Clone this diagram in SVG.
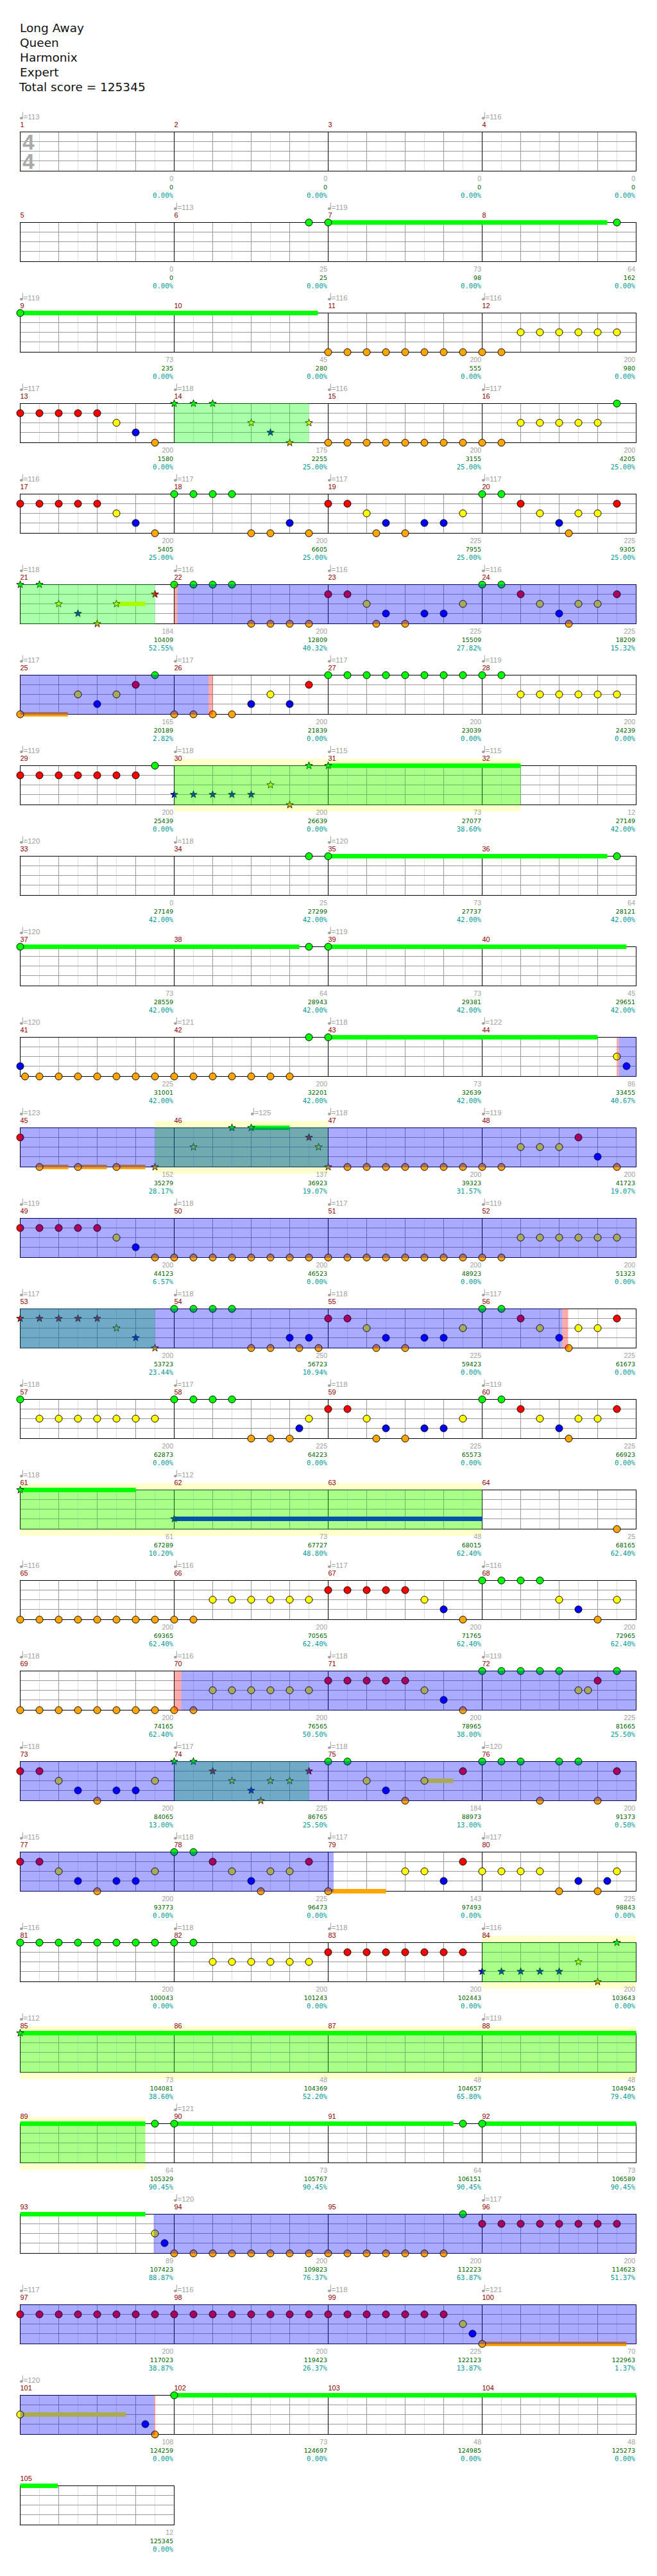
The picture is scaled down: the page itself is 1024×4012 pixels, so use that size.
<svg xmlns="http://www.w3.org/2000/svg" width="1024" height="4012" viewBox="0 0 1024 4012">
<defs>
<style>
.mn{font-family:"Liberation Sans",Arial,sans-serif;font-size:11px;fill:#8b0000}
.tp{font-family:"Liberation Sans",Arial,sans-serif;font-size:11.5px;fill:#a0a0a0}
.s1{font-family:"Liberation Sans",Arial,sans-serif;font-size:10.5px;fill:#a0a0a0;text-anchor:end}
.s2{font-family:"DejaVu Sans",sans-serif;font-size:9.5px;fill:#006400;text-anchor:end}
.s3{font-family:"DejaVu Sans Mono",monospace;font-size:10.6px;fill:#009999;text-anchor:end}
.hd{font-family:"DejaVu Sans",sans-serif;font-size:18.5px;fill:#111}
.ts{font-family:"Liberation Sans",Arial,sans-serif;font-size:33.5px;font-weight:bold;fill:#aaa}
.og{fill:#00ff00;fill-opacity:.333}
.ob{fill:#0000ff;fill-opacity:.333}
.orr{fill:#ff0000;fill-opacity:.333}
.yb{fill:#ffffcc}
.zg{fill:#00ff00}.zr{fill:#ff0000}.zy{fill:#ffff00}.zb{fill:#0000ff}.zo{fill:#ffa500}
</style>
<circle id="G" r="5.5" fill="#00ff00" stroke="#000"/>
<circle id="R" r="5.5" fill="#ff0000" stroke="#000"/>
<circle id="Y" r="5.5" fill="#ffff00" stroke="#000"/>
<circle id="B" r="5.5" fill="#0000ff" stroke="#000"/>
<circle id="O" r="5.5" fill="#ffa500" stroke="#000"/>
<polygon id="sG" points="0,-6 1.41,-1.94 5.71,-1.85 2.28,0.74 3.53,4.85 0,2.4 -3.53,4.85 -2.28,0.74 -5.71,-1.85 -1.41,-1.94" fill="#00ff00" stroke="#000" stroke-width="0.8"/>
<polygon id="sR" points="0,-6 1.41,-1.94 5.71,-1.85 2.28,0.74 3.53,4.85 0,2.4 -3.53,4.85 -2.28,0.74 -5.71,-1.85 -1.41,-1.94" fill="#ff0000" stroke="#000" stroke-width="0.8"/>
<polygon id="sY" points="0,-6 1.41,-1.94 5.71,-1.85 2.28,0.74 3.53,4.85 0,2.4 -3.53,4.85 -2.28,0.74 -5.71,-1.85 -1.41,-1.94" fill="#ffff00" stroke="#000" stroke-width="0.8"/>
<polygon id="sB" points="0,-6 1.41,-1.94 5.71,-1.85 2.28,0.74 3.53,4.85 0,2.4 -3.53,4.85 -2.28,0.74 -5.71,-1.85 -1.41,-1.94" fill="#0000ff" stroke="#000" stroke-width="0.8"/>
<polygon id="sO" points="0,-6 1.41,-1.94 5.71,-1.85 2.28,0.74 3.53,4.85 0,2.4 -3.53,4.85 -2.28,0.74 -5.71,-1.85 -1.41,-1.94" fill="#ffa500" stroke="#000" stroke-width="0.8"/>
<g id="q" fill="#a0a0a0"><ellipse cx="1.8" cy="-21.5" rx="2.4" ry="1.9"/><rect x="3.3" y="-31" width="1" height="9.5"/></g>
<g id="st4" fill="none">
<path stroke="#dddddd" d="M61.5 0v61M121.5 0v61M181.5 0v61M241.5 0v61M301.5 0v61M361.5 0v61M421.5 0v61M481.5 0v61M541.5 0v61M601.5 0v61M661.5 0v61M721.5 0v61M781.5 0v61M841.5 0v61M901.5 0v61M961.5 0v61"/>
<path stroke="#999999" d="M91.5 0v61M151.5 0v61M211.5 0v61M331.5 0v61M391.5 0v61M451.5 0v61M571.5 0v61M631.5 0v61M691.5 0v61M811.5 0v61M871.5 0v61M931.5 0v61M31.5 15H991.5M31.5 30H991.5M31.5 45H991.5"/>
<path stroke="#000" d="M271.5 0v61M511.5 0v61M751.5 0v61"/>
<rect x="31.5" y="0" width="960" height="61" stroke="#000"/>
</g>
<g id="st1" fill="none">
<path stroke="#dddddd" d="M61.5 0v61M121.5 0v61M181.5 0v61M241.5 0v61"/>
<path stroke="#999999" d="M91.5 0v61M151.5 0v61M211.5 0v61M31.5 15H271.5M31.5 30H271.5M31.5 45H271.5"/>
<rect x="31.5" y="0" width="240" height="61" stroke="#000"/>
</g>
<g id="P">
<use href="#R" x="511.5" y="15"/><use href="#R" x="541.5" y="15"/><use href="#Y" x="571.5" y="30"/><use href="#O" x="586.5" y="61"/><use href="#B" x="601.5" y="45"/><use href="#O" x="631.5" y="61"/><use href="#B" x="661.5" y="45"/><use href="#B" x="691.5" y="45"/><use href="#Y" x="721.5" y="30"/><use href="#G" x="751.5" y="0"/><use href="#G" x="781.5" y="0"/><use href="#R" x="811.5" y="15"/><use href="#Y" x="841.5" y="30"/><use href="#B" x="871.5" y="45"/><use href="#O" x="886.5" y="61"/><use href="#Y" x="901.5" y="30"/><use href="#Y" x="931.5" y="30"/><use href="#R" x="961.5" y="15"/>
</g>
</defs>
<rect width="1024" height="4012" fill="#fff"/>
<g id="header">
<text class="hd" x="31" y="49.5">Long Away</text>
<text class="hd" x="31" y="72.5">Queen</text>
<text class="hd" x="31" y="95.5">Harmonix</text>
<text class="hd" x="31" y="118.5">Expert</text>
<text class="hd" x="30" y="141.5">Total score = 125345</text>
</g>

<g id="row-m1-4" transform="translate(0,205.5)">
<use href="#st4"/>
<text class="ts" x="35" y="27.5">4</text><text class="ts" x="35" y="57.5">4</text>
<text class="mn" x="31.5" y="-8">1</text><text class="mn" x="271.5" y="-8">2</text><text class="mn" x="511.5" y="-8">3</text><text class="mn" x="751.5" y="-8">4</text>
<use href="#q" x="31.5"/><text class="tp" x="36.5" y="-20">=113</text><use href="#q" x="751.5"/><text class="tp" x="756.5" y="-20">=116</text>
<text class="s1" x="270" y="76">0</text><text class="s2" x="270" y="89.5">0</text><text class="s3" x="270" y="102.5">0.00%</text>
<text class="s1" x="510" y="76">0</text><text class="s2" x="510" y="89.5">0</text><text class="s3" x="510" y="102.5">0.00%</text>
<text class="s1" x="750" y="76">0</text><text class="s2" x="750" y="89.5">0</text><text class="s3" x="750" y="102.5">0.00%</text>
<text class="s1" x="990" y="76">0</text><text class="s2" x="990" y="89.5">0</text><text class="s3" x="990" y="102.5">0.00%</text>
</g>

<g id="row-m5-8" transform="translate(0,346.5)">
<use href="#st4"/>
<text class="mn" x="31.5" y="-8">5</text><text class="mn" x="271.5" y="-8">6</text><text class="mn" x="511.5" y="-8">7</text><text class="mn" x="751.5" y="-8">8</text>
<use href="#q" x="271.5"/><text class="tp" x="276.5" y="-20">=113</text><use href="#q" x="511.5"/><text class="tp" x="516.5" y="-20">=119</text>
<rect class="zg" x="511.5" y="-3.5" width="435" height="7"/>
<use href="#G" x="481.5" y="0"/><use href="#G" x="511.5" y="0"/><use href="#G" x="961.5" y="0"/>
<text class="s1" x="270" y="76">0</text><text class="s2" x="270" y="89.5">0</text><text class="s3" x="270" y="102.5">0.00%</text>
<text class="s1" x="510" y="76">25</text><text class="s2" x="510" y="89.5">25</text><text class="s3" x="510" y="102.5">0.00%</text>
<text class="s1" x="750" y="76">73</text><text class="s2" x="750" y="89.5">98</text><text class="s3" x="750" y="102.5">0.00%</text>
<text class="s1" x="990" y="76">64</text><text class="s2" x="990" y="89.5">162</text><text class="s3" x="990" y="102.5">0.00%</text>
</g>

<g id="row-m9-12" transform="translate(0,487.5)">
<use href="#st4"/>
<text class="mn" x="31.5" y="-8">9</text><text class="mn" x="271.5" y="-8">10</text><text class="mn" x="511.5" y="-8">11</text><text class="mn" x="751.5" y="-8">12</text>
<use href="#q" x="31.5"/><text class="tp" x="36.5" y="-20">=119</text><use href="#q" x="511.5"/><text class="tp" x="516.5" y="-20">=116</text><use href="#q" x="751.5"/><text class="tp" x="756.5" y="-20">=116</text>
<rect class="zg" x="31.5" y="-3.5" width="464" height="7"/>
<use href="#G" x="31.5" y="0"/>
<use href="#O" x="511.5" y="61"/><use href="#O" x="541.5" y="61"/><use href="#O" x="571.5" y="61"/><use href="#O" x="601.5" y="61"/><use href="#O" x="631.5" y="61"/><use href="#O" x="661.5" y="61"/><use href="#O" x="691.5" y="61"/><use href="#O" x="721.5" y="61"/><use href="#O" x="751.5" y="61"/><use href="#O" x="781.5" y="61"/>
<use href="#Y" x="811.5" y="30"/><use href="#Y" x="841.5" y="30"/><use href="#Y" x="871.5" y="30"/><use href="#Y" x="901.5" y="30"/><use href="#Y" x="931.5" y="30"/><use href="#Y" x="961.5" y="30"/>
<text class="s1" x="270" y="76">73</text><text class="s2" x="270" y="89.5">235</text><text class="s3" x="270" y="102.5">0.00%</text>
<text class="s1" x="510" y="76">45</text><text class="s2" x="510" y="89.5">280</text><text class="s3" x="510" y="102.5">0.00%</text>
<text class="s1" x="750" y="76">200</text><text class="s2" x="750" y="89.5">555</text><text class="s3" x="750" y="102.5">0.00%</text>
<text class="s1" x="990" y="76">200</text><text class="s2" x="990" y="89.5">980</text><text class="s3" x="990" y="102.5">0.00%</text>
</g>

<g id="row-m13-16" transform="translate(0,628.5)">
<use href="#st4"/>
<text class="mn" x="31.5" y="-8">13</text><text class="mn" x="271.5" y="-8">14</text><text class="mn" x="511.5" y="-8">15</text><text class="mn" x="751.5" y="-8">16</text>
<use href="#q" x="31.5"/><text class="tp" x="36.5" y="-20">=117</text><use href="#q" x="271.5"/><text class="tp" x="276.5" y="-20">=118</text><use href="#q" x="511.5"/><text class="tp" x="516.5" y="-20">=116</text><use href="#q" x="751.5"/><text class="tp" x="756.5" y="-20">=117</text>
<use href="#R" x="31.5" y="15"/><use href="#R" x="61.5" y="15"/><use href="#R" x="91.5" y="15"/><use href="#R" x="121.5" y="15"/><use href="#R" x="151.5" y="15"/><use href="#Y" x="181.5" y="30"/><use href="#B" x="211.5" y="45"/><use href="#O" x="241.5" y="61"/>
<use href="#sG" x="271.5" y="0"/><use href="#sG" x="301.5" y="0"/><use href="#sG" x="331.5" y="0"/><use href="#sY" x="391.5" y="30"/><use href="#sB" x="421.5" y="45"/><use href="#sO" x="451.5" y="61"/><use href="#sY" x="481.5" y="30"/>
<use href="#O" x="511.5" y="61"/><use href="#O" x="541.5" y="61"/><use href="#O" x="571.5" y="61"/><use href="#O" x="601.5" y="61"/><use href="#O" x="631.5" y="61"/><use href="#O" x="661.5" y="61"/><use href="#O" x="691.5" y="61"/><use href="#O" x="721.5" y="61"/><use href="#O" x="751.5" y="61"/><use href="#O" x="781.5" y="61"/>
<use href="#Y" x="811.5" y="30"/><use href="#Y" x="841.5" y="30"/><use href="#Y" x="871.5" y="30"/><use href="#Y" x="901.5" y="30"/><use href="#Y" x="931.5" y="30"/><use href="#G" x="961.5" y="0"/>
<rect class="og" x="271.5" y="-0.5" width="210" height="62"/>
<text class="s1" x="270" y="76">200</text><text class="s2" x="270" y="89.5">1580</text><text class="s3" x="270" y="102.5">0.00%</text>
<text class="s1" x="510" y="76">175</text><text class="s2" x="510" y="89.5">2255</text><text class="s3" x="510" y="102.5">25.00%</text>
<text class="s1" x="750" y="76">200</text><text class="s2" x="750" y="89.5">3155</text><text class="s3" x="750" y="102.5">25.00%</text>
<text class="s1" x="990" y="76">200</text><text class="s2" x="990" y="89.5">4205</text><text class="s3" x="990" y="102.5">25.00%</text>
</g>

<g id="row-m17-20" transform="translate(0,769.5)">
<use href="#st4"/>
<text class="mn" x="31.5" y="-8">17</text><text class="mn" x="271.5" y="-8">18</text><text class="mn" x="511.5" y="-8">19</text><text class="mn" x="751.5" y="-8">20</text>
<use href="#q" x="31.5"/><text class="tp" x="36.5" y="-20">=116</text><use href="#q" x="271.5"/><text class="tp" x="276.5" y="-20">=117</text><use href="#q" x="511.5"/><text class="tp" x="516.5" y="-20">=117</text><use href="#q" x="751.5"/><text class="tp" x="756.5" y="-20">=117</text>
<use href="#R" x="31.5" y="15"/><use href="#R" x="61.5" y="15"/><use href="#R" x="91.5" y="15"/><use href="#R" x="121.5" y="15"/><use href="#R" x="151.5" y="15"/><use href="#Y" x="181.5" y="30"/><use href="#B" x="211.5" y="45"/><use href="#O" x="241.5" y="61"/>
<use href="#G" x="271.5" y="0"/><use href="#G" x="301.5" y="0"/><use href="#G" x="331.5" y="0"/><use href="#G" x="361.5" y="0"/><use href="#O" x="391.5" y="61"/><use href="#O" x="421.5" y="61"/><use href="#B" x="451.5" y="45"/><use href="#O" x="481.5" y="61"/>
<use href="#P"/>
<text class="s1" x="270" y="76">200</text><text class="s2" x="270" y="89.5">5405</text><text class="s3" x="270" y="102.5">25.00%</text>
<text class="s1" x="510" y="76">200</text><text class="s2" x="510" y="89.5">6605</text><text class="s3" x="510" y="102.5">25.00%</text>
<text class="s1" x="750" y="76">225</text><text class="s2" x="750" y="89.5">7955</text><text class="s3" x="750" y="102.5">25.00%</text>
<text class="s1" x="990" y="76">225</text><text class="s2" x="990" y="89.5">9305</text><text class="s3" x="990" y="102.5">25.00%</text>
</g>

<g id="row-m21-24" transform="translate(0,910.5)">
<use href="#st4"/>
<text class="mn" x="31.5" y="-8">21</text><text class="mn" x="271.5" y="-8">22</text><text class="mn" x="511.5" y="-8">23</text><text class="mn" x="751.5" y="-8">24</text>
<use href="#q" x="31.5"/><text class="tp" x="36.5" y="-20">=118</text><use href="#q" x="271.5"/><text class="tp" x="276.5" y="-20">=116</text><use href="#q" x="511.5"/><text class="tp" x="516.5" y="-20">=116</text><use href="#q" x="751.5"/><text class="tp" x="756.5" y="-20">=116</text>
<rect class="zy" x="181.5" y="26.5" width="45" height="7"/>
<use href="#sG" x="31.5" y="0"/><use href="#sG" x="61.5" y="0"/><use href="#sY" x="91.5" y="30"/><use href="#sB" x="121.5" y="45"/><use href="#sO" x="151.5" y="61"/><use href="#sY" x="181.5" y="30"/><use href="#sR" x="241.5" y="15"/>
<use href="#G" x="271.5" y="0"/><use href="#G" x="301.5" y="0"/><use href="#G" x="331.5" y="0"/><use href="#G" x="361.5" y="0"/><use href="#O" x="391.5" y="61"/><use href="#O" x="421.5" y="61"/><use href="#O" x="451.5" y="61"/><use href="#O" x="481.5" y="61"/>
<use href="#P"/>
<rect class="og" x="31.5" y="-0.5" width="210" height="62"/><rect class="orr" x="271.5" y="-0.5" width="5" height="62"/><rect class="ob" x="276.5" y="-0.5" width="715" height="62"/>
<text class="s1" x="270" y="76">184</text><text class="s2" x="270" y="89.5">10409</text><text class="s3" x="270" y="102.5">52.55%</text>
<text class="s1" x="510" y="76">200</text><text class="s2" x="510" y="89.5">12809</text><text class="s3" x="510" y="102.5">40.32%</text>
<text class="s1" x="750" y="76">225</text><text class="s2" x="750" y="89.5">15509</text><text class="s3" x="750" y="102.5">27.82%</text>
<text class="s1" x="990" y="76">225</text><text class="s2" x="990" y="89.5">18209</text><text class="s3" x="990" y="102.5">15.32%</text>
</g>

<g id="row-m25-28" transform="translate(0,1051.5)">
<use href="#st4"/>
<text class="mn" x="31.5" y="-8">25</text><text class="mn" x="271.5" y="-8">26</text><text class="mn" x="511.5" y="-8">27</text><text class="mn" x="751.5" y="-8">28</text>
<use href="#q" x="31.5"/><text class="tp" x="36.5" y="-20">=117</text><use href="#q" x="271.5"/><text class="tp" x="276.5" y="-20">=117</text><use href="#q" x="511.5"/><text class="tp" x="516.5" y="-20">=117</text><use href="#q" x="751.5"/><text class="tp" x="756.5" y="-20">=119</text>
<rect class="zo" x="31.5" y="57.5" width="74.3" height="7"/>
<use href="#O" x="31.5" y="61"/><use href="#Y" x="121.5" y="30"/><use href="#B" x="151.5" y="45"/><use href="#Y" x="181.5" y="30"/><use href="#R" x="211.5" y="15"/><use href="#G" x="241.5" y="0"/>
<use href="#O" x="271.5" y="61"/><use href="#O" x="301.5" y="61"/><use href="#O" x="331.5" y="61"/><use href="#O" x="361.5" y="61"/><use href="#B" x="391.5" y="45"/><use href="#Y" x="421.5" y="30"/><use href="#B" x="451.5" y="45"/><use href="#R" x="481.5" y="15"/>
<use href="#G" x="511.5" y="0"/><use href="#G" x="541.5" y="0"/><use href="#G" x="571.5" y="0"/><use href="#G" x="601.5" y="0"/><use href="#G" x="631.5" y="0"/><use href="#G" x="661.5" y="0"/><use href="#G" x="691.5" y="0"/><use href="#G" x="721.5" y="0"/><use href="#G" x="751.5" y="0"/><use href="#G" x="781.5" y="0"/>
<use href="#Y" x="811.5" y="30"/><use href="#Y" x="841.5" y="30"/><use href="#Y" x="871.5" y="30"/><use href="#Y" x="901.5" y="30"/><use href="#Y" x="931.5" y="30"/><use href="#Y" x="961.5" y="30"/>
<rect class="ob" x="31.5" y="-0.5" width="293.5" height="62"/><rect class="orr" x="325" y="-0.5" width="6.5" height="62"/>
<text class="s1" x="270" y="76">165</text><text class="s2" x="270" y="89.5">20189</text><text class="s3" x="270" y="102.5">2.82%</text>
<text class="s1" x="510" y="76">200</text><text class="s2" x="510" y="89.5">21839</text><text class="s3" x="510" y="102.5">0.00%</text>
<text class="s1" x="750" y="76">200</text><text class="s2" x="750" y="89.5">23039</text><text class="s3" x="750" y="102.5">0.00%</text>
<text class="s1" x="990" y="76">200</text><text class="s2" x="990" y="89.5">24239</text><text class="s3" x="990" y="102.5">0.00%</text>
</g>

<g id="row-m29-32" transform="translate(0,1192.5)">
<rect class="yb" x="271.5" y="-10.5" width="540" height="82"/>
<use href="#st4"/>
<text class="mn" x="31.5" y="-8">29</text><text class="mn" x="271.5" y="-8">30</text><text class="mn" x="511.5" y="-8">31</text><text class="mn" x="751.5" y="-8">32</text>
<use href="#q" x="31.5"/><text class="tp" x="36.5" y="-20">=119</text><use href="#q" x="271.5"/><text class="tp" x="276.5" y="-20">=118</text><use href="#q" x="511.5"/><text class="tp" x="516.5" y="-20">=115</text><use href="#q" x="751.5"/><text class="tp" x="756.5" y="-20">=115</text>
<rect class="zg" x="511.5" y="-3.5" width="300" height="7"/>
<use href="#R" x="31.5" y="15"/><use href="#R" x="61.5" y="15"/><use href="#R" x="91.5" y="15"/><use href="#R" x="121.5" y="15"/><use href="#R" x="151.5" y="15"/><use href="#R" x="181.5" y="15"/><use href="#R" x="211.5" y="15"/><use href="#G" x="241.5" y="0"/>
<use href="#sB" x="271.5" y="45"/><use href="#sB" x="301.5" y="45"/><use href="#sB" x="331.5" y="45"/><use href="#sB" x="361.5" y="45"/><use href="#sB" x="391.5" y="45"/><use href="#sY" x="421.5" y="30"/><use href="#sO" x="451.5" y="61"/><use href="#sG" x="481.5" y="0"/><use href="#sG" x="511.5" y="0"/>
<rect class="og" x="271.5" y="-0.5" width="540" height="62"/>
<text class="s1" x="270" y="76">200</text><text class="s2" x="270" y="89.5">25439</text><text class="s3" x="270" y="102.5">0.00%</text>
<text class="s1" x="510" y="76">200</text><text class="s2" x="510" y="89.5">26639</text><text class="s3" x="510" y="102.5">0.00%</text>
<text class="s1" x="750" y="76">73</text><text class="s2" x="750" y="89.5">27077</text><text class="s3" x="750" y="102.5">38.60%</text>
<text class="s1" x="990" y="76">12</text><text class="s2" x="990" y="89.5">27149</text><text class="s3" x="990" y="102.5">42.00%</text>
</g>

<g id="row-m33-36" transform="translate(0,1333.5)">
<use href="#st4"/>
<text class="mn" x="31.5" y="-8">33</text><text class="mn" x="271.5" y="-8">34</text><text class="mn" x="511.5" y="-8">35</text><text class="mn" x="751.5" y="-8">36</text>
<use href="#q" x="31.5"/><text class="tp" x="36.5" y="-20">=120</text><use href="#q" x="271.5"/><text class="tp" x="276.5" y="-20">=118</text><use href="#q" x="511.5"/><text class="tp" x="516.5" y="-20">=120</text>
<rect class="zg" x="511.5" y="-3.5" width="435" height="7"/>
<use href="#G" x="481.5" y="0"/><use href="#G" x="511.5" y="0"/><use href="#G" x="961.5" y="0"/>
<text class="s1" x="270" y="76">0</text><text class="s2" x="270" y="89.5">27149</text><text class="s3" x="270" y="102.5">42.00%</text>
<text class="s1" x="510" y="76">25</text><text class="s2" x="510" y="89.5">27299</text><text class="s3" x="510" y="102.5">42.00%</text>
<text class="s1" x="750" y="76">73</text><text class="s2" x="750" y="89.5">27737</text><text class="s3" x="750" y="102.5">42.00%</text>
<text class="s1" x="990" y="76">64</text><text class="s2" x="990" y="89.5">28121</text><text class="s3" x="990" y="102.5">42.00%</text>
</g>

<g id="row-m37-40" transform="translate(0,1474.5)">
<use href="#st4"/>
<text class="mn" x="31.5" y="-8">37</text><text class="mn" x="271.5" y="-8">38</text><text class="mn" x="511.5" y="-8">39</text><text class="mn" x="751.5" y="-8">40</text>
<use href="#q" x="31.5"/><text class="tp" x="36.5" y="-20">=120</text><use href="#q" x="511.5"/><text class="tp" x="516.5" y="-20">=119</text>
<rect class="zg" x="31.5" y="-3.5" width="435" height="7"/><rect class="zg" x="511.5" y="-3.5" width="465" height="7"/>
<use href="#G" x="31.5" y="0"/><use href="#G" x="481.5" y="0"/><use href="#G" x="511.5" y="0"/>
<text class="s1" x="270" y="76">73</text><text class="s2" x="270" y="89.5">28559</text><text class="s3" x="270" y="102.5">42.00%</text>
<text class="s1" x="510" y="76">64</text><text class="s2" x="510" y="89.5">28943</text><text class="s3" x="510" y="102.5">42.00%</text>
<text class="s1" x="750" y="76">73</text><text class="s2" x="750" y="89.5">29381</text><text class="s3" x="750" y="102.5">42.00%</text>
<text class="s1" x="990" y="76">45</text><text class="s2" x="990" y="89.5">29651</text><text class="s3" x="990" y="102.5">42.00%</text>
</g>

<g id="row-m41-44" transform="translate(0,1615.5)">
<use href="#st4"/>
<text class="mn" x="31.5" y="-8">41</text><text class="mn" x="271.5" y="-8">42</text><text class="mn" x="511.5" y="-8">43</text><text class="mn" x="751.5" y="-8">44</text>
<use href="#q" x="31.5"/><text class="tp" x="36.5" y="-20">=120</text><use href="#q" x="271.5"/><text class="tp" x="276.5" y="-20">=121</text><use href="#q" x="511.5"/><text class="tp" x="516.5" y="-20">=118</text><use href="#q" x="751.5"/><text class="tp" x="756.5" y="-20">=122</text>
<rect class="zg" x="511.5" y="-3.5" width="420" height="7"/>
<use href="#B" x="31.5" y="45"/><use href="#O" x="39" y="61"/><use href="#O" x="61.5" y="61"/><use href="#O" x="91.5" y="61"/><use href="#O" x="121.5" y="61"/><use href="#O" x="151.5" y="61"/><use href="#O" x="181.5" y="61"/><use href="#O" x="211.5" y="61"/><use href="#O" x="241.5" y="61"/><use href="#O" x="271.5" y="61"/><use href="#O" x="301.5" y="61"/><use href="#O" x="331.5" y="61"/><use href="#O" x="361.5" y="61"/><use href="#O" x="391.5" y="61"/><use href="#O" x="421.5" y="61"/><use href="#O" x="451.5" y="61"/>
<use href="#G" x="481.5" y="0"/><use href="#G" x="511.5" y="0"/><use href="#Y" x="961.5" y="30"/><use href="#B" x="976.5" y="45"/>
<rect class="orr" x="961.5" y="-0.5" width="3" height="62"/><rect class="ob" x="964.5" y="-0.5" width="27" height="62"/>
<text class="s1" x="270" y="76">225</text><text class="s2" x="270" y="89.5">31001</text><text class="s3" x="270" y="102.5">42.00%</text>
<text class="s1" x="510" y="76">200</text><text class="s2" x="510" y="89.5">32201</text><text class="s3" x="510" y="102.5">42.00%</text>
<text class="s1" x="750" y="76">73</text><text class="s2" x="750" y="89.5">32639</text><text class="s3" x="750" y="102.5">42.00%</text>
<text class="s1" x="990" y="76">86</text><text class="s2" x="990" y="89.5">33455</text><text class="s3" x="990" y="102.5">40.67%</text>
</g>

<g id="row-m45-48" transform="translate(0,1756.5)">
<rect class="yb" x="241.5" y="-10.5" width="270" height="82"/>
<use href="#st4"/>
<text class="mn" x="31.5" y="-8">45</text><text class="mn" x="271.5" y="-8">46</text><text class="mn" x="511.5" y="-8">47</text><text class="mn" x="751.5" y="-8">48</text>
<use href="#q" x="31.5"/><text class="tp" x="36.5" y="-20">=123</text><use href="#q" x="391.5"/><text class="tp" x="396.5" y="-20">=125</text><use href="#q" x="511.5"/><text class="tp" x="516.5" y="-20">=118</text><use href="#q" x="751.5"/><text class="tp" x="756.5" y="-20">=119</text>
<rect class="zo" x="61.5" y="57.5" width="45" height="7"/><rect class="zo" x="121.5" y="57.5" width="45" height="7"/><rect class="zo" x="181.5" y="57.5" width="45" height="7"/><rect class="zg" x="391.5" y="-3.5" width="60" height="7"/>
<use href="#R" x="31.5" y="15"/><use href="#O" x="61.5" y="61"/><use href="#O" x="121.5" y="61"/><use href="#O" x="181.5" y="61"/>
<use href="#sO" x="241.5" y="61"/><use href="#sY" x="301.5" y="30"/><use href="#sG" x="361.5" y="0"/><use href="#sG" x="391.5" y="0"/><use href="#sR" x="481.5" y="15"/><use href="#sY" x="496.5" y="30"/><use href="#sO" x="511.5" y="61"/>
<use href="#O" x="541.5" y="61"/><use href="#O" x="571.5" y="61"/><use href="#O" x="601.5" y="61"/><use href="#O" x="631.5" y="61"/><use href="#O" x="661.5" y="61"/><use href="#O" x="691.5" y="61"/><use href="#O" x="721.5" y="61"/><use href="#O" x="751.5" y="61"/><use href="#O" x="781.5" y="61"/>
<use href="#Y" x="811.5" y="30"/><use href="#Y" x="841.5" y="30"/><use href="#Y" x="871.5" y="30"/><use href="#R" x="901.5" y="15"/><use href="#B" x="931.5" y="45"/><use href="#O" x="961.5" y="61"/>
<rect class="og" x="241.5" y="-0.5" width="270" height="62"/><rect class="ob" x="31.5" y="-0.5" width="960" height="62"/>
<text class="s1" x="270" y="76">152</text><text class="s2" x="270" y="89.5">35279</text><text class="s3" x="270" y="102.5">28.17%</text>
<text class="s1" x="510" y="76">137</text><text class="s2" x="510" y="89.5">36923</text><text class="s3" x="510" y="102.5">19.07%</text>
<text class="s1" x="750" y="76">200</text><text class="s2" x="750" y="89.5">39323</text><text class="s3" x="750" y="102.5">31.57%</text>
<text class="s1" x="990" y="76">200</text><text class="s2" x="990" y="89.5">41723</text><text class="s3" x="990" y="102.5">19.07%</text>
</g>

<g id="row-m49-52" transform="translate(0,1897.5)">
<use href="#st4"/>
<text class="mn" x="31.5" y="-8">49</text><text class="mn" x="271.5" y="-8">50</text><text class="mn" x="511.5" y="-8">51</text><text class="mn" x="751.5" y="-8">52</text>
<use href="#q" x="31.5"/><text class="tp" x="36.5" y="-20">=119</text><use href="#q" x="271.5"/><text class="tp" x="276.5" y="-20">=118</text><use href="#q" x="511.5"/><text class="tp" x="516.5" y="-20">=117</text><use href="#q" x="751.5"/><text class="tp" x="756.5" y="-20">=119</text>
<use href="#R" x="31.5" y="15"/><use href="#R" x="61.5" y="15"/><use href="#R" x="91.5" y="15"/><use href="#R" x="121.5" y="15"/><use href="#R" x="151.5" y="15"/><use href="#Y" x="181.5" y="30"/><use href="#B" x="211.5" y="45"/>
<use href="#O" x="241.5" y="61"/><use href="#O" x="271.5" y="61"/><use href="#O" x="301.5" y="61"/><use href="#O" x="331.5" y="61"/><use href="#O" x="361.5" y="61"/><use href="#O" x="391.5" y="61"/><use href="#O" x="421.5" y="61"/><use href="#O" x="451.5" y="61"/><use href="#O" x="481.5" y="61"/><use href="#O" x="511.5" y="61"/><use href="#O" x="541.5" y="61"/><use href="#O" x="571.5" y="61"/><use href="#O" x="601.5" y="61"/><use href="#O" x="631.5" y="61"/><use href="#O" x="661.5" y="61"/><use href="#O" x="691.5" y="61"/><use href="#O" x="721.5" y="61"/><use href="#O" x="751.5" y="61"/><use href="#O" x="781.5" y="61"/>
<use href="#Y" x="811.5" y="30"/><use href="#Y" x="841.5" y="30"/><use href="#Y" x="871.5" y="30"/><use href="#Y" x="901.5" y="30"/><use href="#Y" x="931.5" y="30"/><use href="#Y" x="961.5" y="30"/>
<rect class="ob" x="31.5" y="-0.5" width="960" height="62"/>
<text class="s1" x="270" y="76">200</text><text class="s2" x="270" y="89.5">44123</text><text class="s3" x="270" y="102.5">6.57%</text>
<text class="s1" x="510" y="76">200</text><text class="s2" x="510" y="89.5">46523</text><text class="s3" x="510" y="102.5">0.00%</text>
<text class="s1" x="750" y="76">200</text><text class="s2" x="750" y="89.5">48923</text><text class="s3" x="750" y="102.5">0.00%</text>
<text class="s1" x="990" y="76">200</text><text class="s2" x="990" y="89.5">51323</text><text class="s3" x="990" y="102.5">0.00%</text>
</g>

<g id="row-m53-56" transform="translate(0,2038.5)">
<use href="#st4"/>
<text class="mn" x="31.5" y="-8">53</text><text class="mn" x="271.5" y="-8">54</text><text class="mn" x="511.5" y="-8">55</text><text class="mn" x="751.5" y="-8">56</text>
<use href="#q" x="31.5"/><text class="tp" x="36.5" y="-20">=117</text><use href="#q" x="271.5"/><text class="tp" x="276.5" y="-20">=118</text><use href="#q" x="511.5"/><text class="tp" x="516.5" y="-20">=118</text><use href="#q" x="751.5"/><text class="tp" x="756.5" y="-20">=117</text>
<use href="#sR" x="31.5" y="15"/><use href="#sR" x="61.5" y="15"/><use href="#sR" x="91.5" y="15"/><use href="#sR" x="121.5" y="15"/><use href="#sR" x="151.5" y="15"/><use href="#sY" x="181.5" y="30"/><use href="#sB" x="211.5" y="45"/><use href="#sO" x="241.5" y="61"/>
<use href="#G" x="271.5" y="0"/><use href="#G" x="301.5" y="0"/><use href="#G" x="331.5" y="0"/><use href="#G" x="361.5" y="0"/><use href="#O" x="391.5" y="61"/><use href="#O" x="421.5" y="61"/><use href="#B" x="451.5" y="45"/><use href="#O" x="466.5" y="61"/><use href="#B" x="481.5" y="45"/><use href="#O" x="496.5" y="61"/>
<use href="#P"/>
<rect class="og" x="31.5" y="-0.5" width="210" height="62"/><rect class="ob" x="31.5" y="-0.5" width="845" height="62"/><rect class="orr" x="876.5" y="-0.5" width="9" height="62"/>
<text class="s1" x="270" y="76">200</text><text class="s2" x="270" y="89.5">53723</text><text class="s3" x="270" y="102.5">23.44%</text>
<text class="s1" x="510" y="76">250</text><text class="s2" x="510" y="89.5">56723</text><text class="s3" x="510" y="102.5">10.94%</text>
<text class="s1" x="750" y="76">225</text><text class="s2" x="750" y="89.5">59423</text><text class="s3" x="750" y="102.5">0.00%</text>
<text class="s1" x="990" y="76">225</text><text class="s2" x="990" y="89.5">61673</text><text class="s3" x="990" y="102.5">0.00%</text>
</g>

<g id="row-m57-60" transform="translate(0,2179.5)">
<use href="#st4"/>
<text class="mn" x="31.5" y="-8">57</text><text class="mn" x="271.5" y="-8">58</text><text class="mn" x="511.5" y="-8">59</text><text class="mn" x="751.5" y="-8">60</text>
<use href="#q" x="31.5"/><text class="tp" x="36.5" y="-20">=118</text><use href="#q" x="271.5"/><text class="tp" x="276.5" y="-20">=117</text><use href="#q" x="511.5"/><text class="tp" x="516.5" y="-20">=118</text><use href="#q" x="751.5"/><text class="tp" x="756.5" y="-20">=119</text>
<use href="#G" x="31.5" y="0"/><use href="#Y" x="61.5" y="30"/><use href="#Y" x="91.5" y="30"/><use href="#Y" x="121.5" y="30"/><use href="#Y" x="151.5" y="30"/><use href="#Y" x="181.5" y="30"/><use href="#Y" x="211.5" y="30"/><use href="#Y" x="241.5" y="30"/>
<use href="#G" x="271.5" y="0"/><use href="#G" x="301.5" y="0"/><use href="#G" x="331.5" y="0"/><use href="#G" x="361.5" y="0"/><use href="#O" x="391.5" y="61"/><use href="#O" x="421.5" y="61"/><use href="#O" x="451.5" y="61"/><use href="#B" x="466.5" y="45"/><use href="#Y" x="481.5" y="30"/>
<use href="#P"/>
<text class="s1" x="270" y="76">200</text><text class="s2" x="270" y="89.5">62873</text><text class="s3" x="270" y="102.5">0.00%</text>
<text class="s1" x="510" y="76">225</text><text class="s2" x="510" y="89.5">64223</text><text class="s3" x="510" y="102.5">0.00%</text>
<text class="s1" x="750" y="76">225</text><text class="s2" x="750" y="89.5">65573</text><text class="s3" x="750" y="102.5">0.00%</text>
<text class="s1" x="990" y="76">225</text><text class="s2" x="990" y="89.5">66923</text><text class="s3" x="990" y="102.5">0.00%</text>
</g>

<g id="row-m61-64" transform="translate(0,2320.5)">
<rect class="yb" x="31.5" y="-10.5" width="720" height="82"/>
<use href="#st4"/>
<text class="mn" x="31.5" y="-8">61</text><text class="mn" x="271.5" y="-8">62</text><text class="mn" x="511.5" y="-8">63</text><text class="mn" x="751.5" y="-8">64</text>
<use href="#q" x="31.5"/><text class="tp" x="36.5" y="-20">=118</text><use href="#q" x="271.5"/><text class="tp" x="276.5" y="-20">=112</text>
<rect class="zg" x="31.5" y="-3.5" width="180" height="7"/><rect class="zb" x="271.5" y="41.5" width="480" height="7"/>
<use href="#sG" x="31.5" y="0"/><use href="#sB" x="271.5" y="45"/><use href="#O" x="961.5" y="61"/>
<rect class="og" x="31.5" y="-0.5" width="720" height="62"/>
<text class="s1" x="270" y="76">61</text><text class="s2" x="270" y="89.5">67289</text><text class="s3" x="270" y="102.5">10.20%</text>
<text class="s1" x="510" y="76">73</text><text class="s2" x="510" y="89.5">67727</text><text class="s3" x="510" y="102.5">48.80%</text>
<text class="s1" x="750" y="76">48</text><text class="s2" x="750" y="89.5">68015</text><text class="s3" x="750" y="102.5">62.40%</text>
<text class="s1" x="990" y="76">25</text><text class="s2" x="990" y="89.5">68165</text><text class="s3" x="990" y="102.5">62.40%</text>
</g>

<g id="row-m65-68" transform="translate(0,2461.5)">
<use href="#st4"/>
<text class="mn" x="31.5" y="-8">65</text><text class="mn" x="271.5" y="-8">66</text><text class="mn" x="511.5" y="-8">67</text><text class="mn" x="751.5" y="-8">68</text>
<use href="#q" x="31.5"/><text class="tp" x="36.5" y="-20">=116</text><use href="#q" x="271.5"/><text class="tp" x="276.5" y="-20">=116</text><use href="#q" x="511.5"/><text class="tp" x="516.5" y="-20">=117</text><use href="#q" x="751.5"/><text class="tp" x="756.5" y="-20">=116</text>
<use href="#O" x="31.5" y="61"/><use href="#O" x="61.5" y="61"/><use href="#O" x="91.5" y="61"/><use href="#O" x="121.5" y="61"/><use href="#O" x="151.5" y="61"/><use href="#O" x="181.5" y="61"/><use href="#O" x="211.5" y="61"/><use href="#O" x="241.5" y="61"/><use href="#O" x="271.5" y="61"/><use href="#O" x="301.5" y="61"/>
<use href="#Y" x="331.5" y="30"/><use href="#Y" x="361.5" y="30"/><use href="#Y" x="391.5" y="30"/><use href="#Y" x="421.5" y="30"/><use href="#Y" x="451.5" y="30"/><use href="#Y" x="481.5" y="30"/>
<use href="#R" x="511.5" y="15"/><use href="#R" x="541.5" y="15"/><use href="#R" x="571.5" y="15"/><use href="#R" x="601.5" y="15"/><use href="#R" x="631.5" y="15"/><use href="#Y" x="661.5" y="30"/><use href="#B" x="691.5" y="45"/><use href="#O" x="721.5" y="61"/>
<use href="#G" x="751.5" y="0"/><use href="#G" x="781.5" y="0"/><use href="#G" x="811.5" y="0"/><use href="#G" x="841.5" y="0"/><use href="#Y" x="871.5" y="30"/><use href="#B" x="901.5" y="45"/><use href="#O" x="931.5" y="61"/><use href="#Y" x="961.5" y="30"/>
<text class="s1" x="270" y="76">200</text><text class="s2" x="270" y="89.5">69365</text><text class="s3" x="270" y="102.5">62.40%</text>
<text class="s1" x="510" y="76">200</text><text class="s2" x="510" y="89.5">70565</text><text class="s3" x="510" y="102.5">62.40%</text>
<text class="s1" x="750" y="76">200</text><text class="s2" x="750" y="89.5">71765</text><text class="s3" x="750" y="102.5">62.40%</text>
<text class="s1" x="990" y="76">200</text><text class="s2" x="990" y="89.5">72965</text><text class="s3" x="990" y="102.5">62.40%</text>
</g>

<g id="row-m69-72" transform="translate(0,2602.5)">
<use href="#st4"/>
<text class="mn" x="31.5" y="-8">69</text><text class="mn" x="271.5" y="-8">70</text><text class="mn" x="511.5" y="-8">71</text><text class="mn" x="751.5" y="-8">72</text>
<use href="#q" x="31.5"/><text class="tp" x="36.5" y="-20">=118</text><use href="#q" x="271.5"/><text class="tp" x="276.5" y="-20">=116</text><use href="#q" x="511.5"/><text class="tp" x="516.5" y="-20">=118</text><use href="#q" x="751.5"/><text class="tp" x="756.5" y="-20">=119</text>
<use href="#O" x="31.5" y="61"/><use href="#O" x="61.5" y="61"/><use href="#O" x="91.5" y="61"/><use href="#O" x="121.5" y="61"/><use href="#O" x="151.5" y="61"/><use href="#O" x="181.5" y="61"/><use href="#O" x="211.5" y="61"/><use href="#O" x="241.5" y="61"/><use href="#O" x="271.5" y="61"/><use href="#O" x="301.5" y="61"/>
<use href="#Y" x="331.5" y="30"/><use href="#Y" x="361.5" y="30"/><use href="#Y" x="391.5" y="30"/><use href="#Y" x="421.5" y="30"/><use href="#Y" x="451.5" y="30"/><use href="#Y" x="481.5" y="30"/>
<use href="#R" x="511.5" y="15"/><use href="#R" x="541.5" y="15"/><use href="#R" x="571.5" y="15"/><use href="#R" x="601.5" y="15"/><use href="#R" x="631.5" y="15"/><use href="#Y" x="661.5" y="30"/><use href="#B" x="691.5" y="45"/><use href="#O" x="721.5" y="61"/>
<use href="#G" x="751.5" y="0"/><use href="#G" x="781.5" y="0"/><use href="#G" x="811.5" y="0"/><use href="#G" x="841.5" y="0"/><use href="#G" x="871.5" y="0"/><use href="#Y" x="901.5" y="30"/><use href="#Y" x="916.5" y="30"/><use href="#R" x="931.5" y="15"/><use href="#G" x="961.5" y="0"/>
<rect class="orr" x="271.5" y="-0.5" width="11" height="62"/><rect class="ob" x="282.5" y="-0.5" width="709" height="62"/>
<text class="s1" x="270" y="76">200</text><text class="s2" x="270" y="89.5">74165</text><text class="s3" x="270" y="102.5">62.40%</text>
<text class="s1" x="510" y="76">200</text><text class="s2" x="510" y="89.5">76565</text><text class="s3" x="510" y="102.5">50.50%</text>
<text class="s1" x="750" y="76">200</text><text class="s2" x="750" y="89.5">78965</text><text class="s3" x="750" y="102.5">38.00%</text>
<text class="s1" x="990" y="76">225</text><text class="s2" x="990" y="89.5">81665</text><text class="s3" x="990" y="102.5">25.50%</text>
</g>

<g id="row-m73-76" transform="translate(0,2743.5)">
<use href="#st4"/>
<text class="mn" x="31.5" y="-8">73</text><text class="mn" x="271.5" y="-8">74</text><text class="mn" x="511.5" y="-8">75</text><text class="mn" x="751.5" y="-8">76</text>
<use href="#q" x="31.5"/><text class="tp" x="36.5" y="-20">=118</text><use href="#q" x="271.5"/><text class="tp" x="276.5" y="-20">=117</text><use href="#q" x="511.5"/><text class="tp" x="516.5" y="-20">=118</text><use href="#q" x="751.5"/><text class="tp" x="756.5" y="-20">=120</text>
<rect class="zy" x="661.5" y="26.5" width="45" height="7"/>
<use href="#R" x="31.5" y="15"/><use href="#R" x="61.5" y="15"/><use href="#Y" x="91.5" y="30"/><use href="#B" x="121.5" y="45"/><use href="#O" x="151.5" y="61"/><use href="#B" x="181.5" y="45"/><use href="#B" x="211.5" y="45"/><use href="#Y" x="241.5" y="30"/>
<use href="#sG" x="271.5" y="0"/><use href="#sG" x="301.5" y="0"/><use href="#sR" x="331.5" y="15"/><use href="#sY" x="361.5" y="30"/><use href="#sB" x="391.5" y="45"/><use href="#sO" x="406.5" y="61"/><use href="#sY" x="421.5" y="30"/><use href="#sY" x="451.5" y="30"/><use href="#sR" x="481.5" y="15"/>
<use href="#G" x="511.5" y="0"/><use href="#G" x="541.5" y="0"/><use href="#Y" x="571.5" y="30"/><use href="#B" x="601.5" y="45"/><use href="#O" x="631.5" y="61"/><use href="#Y" x="661.5" y="30"/><use href="#R" x="721.5" y="15"/>
<use href="#G" x="751.5" y="0"/><use href="#G" x="781.5" y="0"/><use href="#G" x="811.5" y="0"/><use href="#O" x="841.5" y="61"/><use href="#G" x="871.5" y="0"/><use href="#G" x="901.5" y="0"/><use href="#O" x="931.5" y="61"/><use href="#R" x="961.5" y="15"/>
<rect class="og" x="271.5" y="-0.5" width="210" height="62"/><rect class="ob" x="31.5" y="-0.5" width="960" height="62"/>
<text class="s1" x="270" y="76">200</text><text class="s2" x="270" y="89.5">84065</text><text class="s3" x="270" y="102.5">13.00%</text>
<text class="s1" x="510" y="76">225</text><text class="s2" x="510" y="89.5">86765</text><text class="s3" x="510" y="102.5">25.50%</text>
<text class="s1" x="750" y="76">184</text><text class="s2" x="750" y="89.5">88973</text><text class="s3" x="750" y="102.5">13.00%</text>
<text class="s1" x="990" y="76">200</text><text class="s2" x="990" y="89.5">91373</text><text class="s3" x="990" y="102.5">0.50%</text>
</g>

<g id="row-m77-80" transform="translate(0,2884.5)">
<use href="#st4"/>
<text class="mn" x="31.5" y="-8">77</text><text class="mn" x="271.5" y="-8">78</text><text class="mn" x="511.5" y="-8">79</text><text class="mn" x="751.5" y="-8">80</text>
<use href="#q" x="31.5"/><text class="tp" x="36.5" y="-20">=115</text><use href="#q" x="271.5"/><text class="tp" x="276.5" y="-20">=118</text><use href="#q" x="511.5"/><text class="tp" x="516.5" y="-20">=117</text><use href="#q" x="751.5"/><text class="tp" x="756.5" y="-20">=117</text>
<rect class="zo" x="511.5" y="57.5" width="90" height="7"/>
<use href="#R" x="31.5" y="15"/><use href="#R" x="61.5" y="15"/><use href="#Y" x="91.5" y="30"/><use href="#B" x="121.5" y="45"/><use href="#O" x="151.5" y="61"/><use href="#B" x="181.5" y="45"/><use href="#B" x="211.5" y="45"/><use href="#Y" x="241.5" y="30"/>
<use href="#G" x="271.5" y="0"/><use href="#G" x="301.5" y="0"/><use href="#R" x="331.5" y="15"/><use href="#Y" x="361.5" y="30"/><use href="#B" x="391.5" y="45"/><use href="#O" x="406.5" y="61"/><use href="#Y" x="421.5" y="30"/><use href="#Y" x="451.5" y="30"/><use href="#R" x="481.5" y="15"/>
<use href="#O" x="511.5" y="61"/><use href="#Y" x="631.5" y="30"/><use href="#Y" x="661.5" y="30"/><use href="#B" x="691.5" y="45"/><use href="#R" x="721.5" y="15"/>
<use href="#Y" x="751.5" y="30"/><use href="#Y" x="781.5" y="30"/><use href="#Y" x="811.5" y="30"/><use href="#Y" x="841.5" y="30"/><use href="#O" x="871.5" y="61"/><use href="#B" x="901.5" y="45"/><use href="#O" x="931.5" y="61"/><use href="#B" x="946.5" y="45"/><use href="#Y" x="961.5" y="30"/>
<rect class="ob" x="31.5" y="-0.5" width="488.5" height="62"/>
<text class="s1" x="270" y="76">200</text><text class="s2" x="270" y="89.5">93773</text><text class="s3" x="270" y="102.5">0.00%</text>
<text class="s1" x="510" y="76">225</text><text class="s2" x="510" y="89.5">96473</text><text class="s3" x="510" y="102.5">0.00%</text>
<text class="s1" x="750" y="76">143</text><text class="s2" x="750" y="89.5">97493</text><text class="s3" x="750" y="102.5">0.00%</text>
<text class="s1" x="990" y="76">225</text><text class="s2" x="990" y="89.5">98843</text><text class="s3" x="990" y="102.5">0.00%</text>
</g>

<g id="row-m81-84" transform="translate(0,3025.5)">
<rect class="yb" x="751.5" y="-10.5" width="240" height="82"/>
<use href="#st4"/>
<text class="mn" x="31.5" y="-8">81</text><text class="mn" x="271.5" y="-8">82</text><text class="mn" x="511.5" y="-8">83</text><text class="mn" x="751.5" y="-8">84</text>
<use href="#q" x="31.5"/><text class="tp" x="36.5" y="-20">=116</text><use href="#q" x="271.5"/><text class="tp" x="276.5" y="-20">=118</text><use href="#q" x="511.5"/><text class="tp" x="516.5" y="-20">=118</text><use href="#q" x="751.5"/><text class="tp" x="756.5" y="-20">=116</text>
<use href="#G" x="31.5" y="0"/><use href="#G" x="61.5" y="0"/><use href="#G" x="91.5" y="0"/><use href="#G" x="121.5" y="0"/><use href="#G" x="151.5" y="0"/><use href="#G" x="181.5" y="0"/><use href="#G" x="211.5" y="0"/><use href="#G" x="241.5" y="0"/><use href="#G" x="271.5" y="0"/><use href="#G" x="301.5" y="0"/>
<use href="#Y" x="331.5" y="30"/><use href="#Y" x="361.5" y="30"/><use href="#Y" x="391.5" y="30"/><use href="#Y" x="421.5" y="30"/><use href="#Y" x="451.5" y="30"/><use href="#Y" x="481.5" y="30"/>
<use href="#R" x="511.5" y="15"/><use href="#R" x="541.5" y="15"/><use href="#R" x="571.5" y="15"/><use href="#R" x="601.5" y="15"/><use href="#R" x="631.5" y="15"/><use href="#R" x="661.5" y="15"/><use href="#R" x="691.5" y="15"/><use href="#R" x="721.5" y="15"/>
<use href="#sB" x="751.5" y="45"/><use href="#sB" x="781.5" y="45"/><use href="#sB" x="811.5" y="45"/><use href="#sB" x="841.5" y="45"/><use href="#sB" x="871.5" y="45"/><use href="#sY" x="901.5" y="30"/><use href="#sO" x="931.5" y="61"/><use href="#sG" x="961.5" y="0"/>
<rect class="og" x="751.5" y="-0.5" width="240" height="62"/>
<text class="s1" x="270" y="76">200</text><text class="s2" x="270" y="89.5">100043</text><text class="s3" x="270" y="102.5">0.00%</text>
<text class="s1" x="510" y="76">200</text><text class="s2" x="510" y="89.5">101243</text><text class="s3" x="510" y="102.5">0.00%</text>
<text class="s1" x="750" y="76">200</text><text class="s2" x="750" y="89.5">102443</text><text class="s3" x="750" y="102.5">0.00%</text>
<text class="s1" x="990" y="76">200</text><text class="s2" x="990" y="89.5">103643</text><text class="s3" x="990" y="102.5">0.00%</text>
</g>

<g id="row-m85-88" transform="translate(0,3166.5)">
<rect class="yb" x="31.5" y="-10.5" width="960" height="82"/>
<use href="#st4"/>
<text class="mn" x="31.5" y="-8">85</text><text class="mn" x="271.5" y="-8">86</text><text class="mn" x="511.5" y="-8">87</text><text class="mn" x="751.5" y="-8">88</text>
<use href="#q" x="31.5"/><text class="tp" x="36.5" y="-20">=112</text><use href="#q" x="751.5"/><text class="tp" x="756.5" y="-20">=119</text>
<rect class="zg" x="31.5" y="-3.5" width="960" height="7"/>
<use href="#sG" x="31.5" y="0"/>
<rect class="og" x="31.5" y="-0.5" width="960" height="62"/>
<text class="s1" x="270" y="76">73</text><text class="s2" x="270" y="89.5">104081</text><text class="s3" x="270" y="102.5">38.60%</text>
<text class="s1" x="510" y="76">48</text><text class="s2" x="510" y="89.5">104369</text><text class="s3" x="510" y="102.5">52.20%</text>
<text class="s1" x="750" y="76">48</text><text class="s2" x="750" y="89.5">104657</text><text class="s3" x="750" y="102.5">65.80%</text>
<text class="s1" x="990" y="76">48</text><text class="s2" x="990" y="89.5">104945</text><text class="s3" x="990" y="102.5">79.40%</text>
</g>

<g id="row-m89-92" transform="translate(0,3307.5)">
<rect class="yb" x="31.5" y="-10.5" width="195" height="82"/>
<use href="#st4"/>
<text class="mn" x="31.5" y="-8">89</text><text class="mn" x="271.5" y="-8">90</text><text class="mn" x="511.5" y="-8">91</text><text class="mn" x="751.5" y="-8">92</text>
<use href="#q" x="271.5"/><text class="tp" x="276.5" y="-20">=121</text>
<rect class="zg" x="31.5" y="-3.5" width="195" height="7"/><rect class="zg" x="271.5" y="-3.5" width="435" height="7"/><rect class="zg" x="751.5" y="-3.5" width="240" height="7"/>
<use href="#G" x="241.5" y="0"/><use href="#G" x="271.5" y="0"/><use href="#G" x="721.5" y="0"/><use href="#G" x="751.5" y="0"/>
<rect class="og" x="31.5" y="-0.5" width="195" height="62"/>
<text class="s1" x="270" y="76">64</text><text class="s2" x="270" y="89.5">105329</text><text class="s3" x="270" y="102.5">90.45%</text>
<text class="s1" x="510" y="76">73</text><text class="s2" x="510" y="89.5">105767</text><text class="s3" x="510" y="102.5">90.45%</text>
<text class="s1" x="750" y="76">64</text><text class="s2" x="750" y="89.5">106151</text><text class="s3" x="750" y="102.5">90.45%</text>
<text class="s1" x="990" y="76">73</text><text class="s2" x="990" y="89.5">106589</text><text class="s3" x="990" y="102.5">90.45%</text>
</g>

<g id="row-m93-96" transform="translate(0,3448.5)">
<use href="#st4"/>
<text class="mn" x="31.5" y="-8">93</text><text class="mn" x="271.5" y="-8">94</text><text class="mn" x="511.5" y="-8">95</text><text class="mn" x="751.5" y="-8">96</text>
<use href="#q" x="271.5"/><text class="tp" x="276.5" y="-20">=120</text><use href="#q" x="751.5"/><text class="tp" x="756.5" y="-20">=117</text>
<rect class="zg" x="31.5" y="-3.5" width="195" height="7"/>
<use href="#Y" x="241.5" y="30"/><use href="#B" x="256.5" y="45"/>
<use href="#O" x="271.5" y="61"/><use href="#O" x="301.5" y="61"/><use href="#O" x="331.5" y="61"/><use href="#O" x="361.5" y="61"/><use href="#O" x="391.5" y="61"/><use href="#O" x="421.5" y="61"/><use href="#O" x="451.5" y="61"/><use href="#O" x="481.5" y="61"/><use href="#O" x="511.5" y="61"/><use href="#O" x="541.5" y="61"/><use href="#O" x="571.5" y="61"/><use href="#O" x="601.5" y="61"/><use href="#O" x="631.5" y="61"/><use href="#O" x="661.5" y="61"/><use href="#O" x="691.5" y="61"/>
<use href="#G" x="721.5" y="0"/>
<use href="#R" x="751.5" y="15"/><use href="#R" x="781.5" y="15"/><use href="#R" x="811.5" y="15"/><use href="#R" x="841.5" y="15"/><use href="#R" x="871.5" y="15"/><use href="#R" x="901.5" y="15"/><use href="#R" x="931.5" y="15"/><use href="#R" x="961.5" y="15"/>
<rect class="ob" x="239.5" y="-0.5" width="752" height="62"/>
<text class="s1" x="270" y="76">89</text><text class="s2" x="270" y="89.5">107423</text><text class="s3" x="270" y="102.5">88.87%</text>
<text class="s1" x="510" y="76">200</text><text class="s2" x="510" y="89.5">109823</text><text class="s3" x="510" y="102.5">76.37%</text>
<text class="s1" x="750" y="76">200</text><text class="s2" x="750" y="89.5">112223</text><text class="s3" x="750" y="102.5">63.87%</text>
<text class="s1" x="990" y="76">200</text><text class="s2" x="990" y="89.5">114623</text><text class="s3" x="990" y="102.5">51.37%</text>
</g>

<g id="row-m97-100" transform="translate(0,3589.5)">
<use href="#st4"/>
<text class="mn" x="31.5" y="-8">97</text><text class="mn" x="271.5" y="-8">98</text><text class="mn" x="511.5" y="-8">99</text><text class="mn" x="751.5" y="-8">100</text>
<use href="#q" x="31.5"/><text class="tp" x="36.5" y="-20">=117</text><use href="#q" x="271.5"/><text class="tp" x="276.5" y="-20">=116</text><use href="#q" x="511.5"/><text class="tp" x="516.5" y="-20">=118</text><use href="#q" x="751.5"/><text class="tp" x="756.5" y="-20">=121</text>
<rect class="zo" x="751.5" y="57.5" width="225" height="7"/>
<use href="#R" x="31.5" y="15"/><use href="#R" x="61.5" y="15"/><use href="#R" x="91.5" y="15"/><use href="#R" x="121.5" y="15"/><use href="#R" x="151.5" y="15"/><use href="#R" x="181.5" y="15"/><use href="#R" x="211.5" y="15"/><use href="#R" x="241.5" y="15"/><use href="#R" x="271.5" y="15"/><use href="#R" x="301.5" y="15"/><use href="#R" x="331.5" y="15"/><use href="#R" x="361.5" y="15"/><use href="#R" x="391.5" y="15"/><use href="#R" x="421.5" y="15"/><use href="#R" x="451.5" y="15"/><use href="#R" x="481.5" y="15"/><use href="#R" x="511.5" y="15"/><use href="#R" x="541.5" y="15"/><use href="#R" x="571.5" y="15"/><use href="#R" x="601.5" y="15"/><use href="#R" x="631.5" y="15"/><use href="#R" x="661.5" y="15"/><use href="#R" x="691.5" y="15"/>
<use href="#Y" x="721.5" y="30"/><use href="#B" x="736.5" y="45"/><use href="#O" x="751.5" y="61"/>
<rect class="ob" x="31.5" y="-0.5" width="960" height="62"/>
<text class="s1" x="270" y="76">200</text><text class="s2" x="270" y="89.5">117023</text><text class="s3" x="270" y="102.5">38.87%</text>
<text class="s1" x="510" y="76">200</text><text class="s2" x="510" y="89.5">119423</text><text class="s3" x="510" y="102.5">26.37%</text>
<text class="s1" x="750" y="76">225</text><text class="s2" x="750" y="89.5">122123</text><text class="s3" x="750" y="102.5">13.87%</text>
<text class="s1" x="990" y="76">70</text><text class="s2" x="990" y="89.5">122963</text><text class="s3" x="990" y="102.5">1.37%</text>
</g>

<g id="row-m101-104" transform="translate(0,3730.5)">
<use href="#st4"/>
<text class="mn" x="31.5" y="-8">101</text><text class="mn" x="271.5" y="-8">102</text><text class="mn" x="511.5" y="-8">103</text><text class="mn" x="751.5" y="-8">104</text>
<use href="#q" x="31.5"/><text class="tp" x="36.5" y="-20">=120</text>
<rect class="zy" x="31.5" y="26.5" width="165" height="7"/><rect class="zg" x="271.5" y="-3.5" width="720" height="7"/>
<use href="#Y" x="31.5" y="30"/><use href="#B" x="226.5" y="45"/><use href="#O" x="241.5" y="61"/><use href="#G" x="271.5" y="0"/>
<rect class="ob" x="31.5" y="-0.5" width="208.5" height="62"/><rect class="orr" x="240" y="-0.5" width="2" height="62"/>
<text class="s1" x="270" y="76">108</text><text class="s2" x="270" y="89.5">124259</text><text class="s3" x="270" y="102.5">0.00%</text>
<text class="s1" x="510" y="76">73</text><text class="s2" x="510" y="89.5">124697</text><text class="s3" x="510" y="102.5">0.00%</text>
<text class="s1" x="750" y="76">48</text><text class="s2" x="750" y="89.5">124985</text><text class="s3" x="750" y="102.5">0.00%</text>
<text class="s1" x="990" y="76">48</text><text class="s2" x="990" y="89.5">125273</text><text class="s3" x="990" y="102.5">0.00%</text>
</g>

<g id="row-m105" transform="translate(0,3871.5)">
<use href="#st1"/>
<text class="mn" x="31.5" y="-8">105</text>
<rect class="zg" x="31.5" y="-3.5" width="58.5" height="7"/>
<text class="s1" x="270" y="76">12</text><text class="s2" x="270" y="89.5">125345</text><text class="s3" x="270" y="102.5">0.00%</text>
</g>
</svg>
